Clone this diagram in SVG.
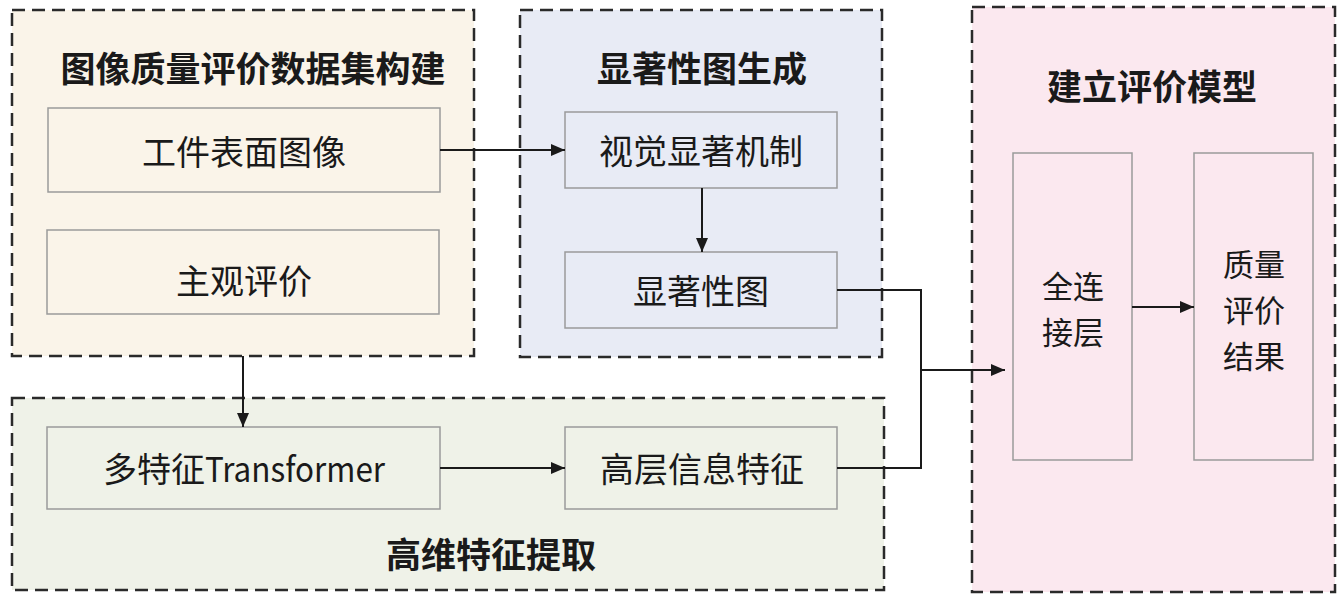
<svg xmlns="http://www.w3.org/2000/svg" width="1344" height="606" viewBox="0 0 1344 606">
<style>
.grp{stroke:#2a2a2a;stroke-width:2.5;stroke-dasharray:13 7}
.box{stroke:#9a9a9a;stroke-width:1.5}
.t{font-family:"Noto Sans CJK SC","Noto Sans",sans-serif;fill:#1a1a1a;text-anchor:middle;dominant-baseline:central}
.title{font-size:35px;font-weight:bold}
.lbl{font-size:34px}
.vl{font-size:31px}
.ln{fill:none;stroke:#1a1a1a;stroke-width:2}
</style>
<defs>
<marker id="ah" markerWidth="14" markerHeight="12" refX="14" refY="6" orient="auto" markerUnits="userSpaceOnUse">
<path d="M0,0 L14,6 L0,12 Z" fill="#1a1a1a"/>
</marker>
</defs>
<rect width="1344" height="606" fill="#ffffff"/>
<g id="group-dataset">
<rect class="grp" x="12" y="10" width="462" height="346" fill="#faf4e9"/>
<text class="t title" x="253" y="66">图像质量评价数据集构建</text>
</g>
<g id="group-saliency">
<rect class="grp" x="520" y="10" width="362" height="347" fill="#e8ebf5"/>
<text class="t title" x="702" y="66">显著性图生成</text>
</g>
<g id="group-feature">
<rect class="grp" x="12" y="398" width="872" height="192" fill="#eff2e8"/>
<text class="t title" x="491" y="552">高维特征提取</text>
</g>
<g id="group-model">
<rect class="grp" x="972" y="7" width="363" height="585" fill="#fbe8ef"/>
<text class="t title" x="1152" y="84">建立评价模型</text>
</g>
<g id="node-workpiece">
<rect class="box" x="48" y="108" width="392" height="84" fill="#faf4e9"/>
<text class="t lbl" x="244" y="150">工件表面图像</text>
</g>
<g id="node-subjective">
<rect class="box" x="47" y="230" width="392" height="84" fill="#faf4e9"/>
<text class="t lbl" x="244" y="279">主观评价</text>
</g>
<g id="node-visual">
<rect class="box" x="565" y="112" width="272" height="76" fill="#e8ebf5"/>
<text class="t lbl" x="701" y="149">视觉显著机制</text>
</g>
<g id="node-salmap">
<rect class="box" x="565" y="252" width="272" height="76" fill="#e8ebf5"/>
<text class="t lbl" x="701" y="289">显著性图</text>
</g>
<g id="node-transformer">
<rect class="box" x="47" y="427" width="393" height="82" fill="#eff2e8"/>
<text class="t lbl" x="244" y="467">多特征<tspan textLength="180" lengthAdjust="spacingAndGlyphs">Transformer</tspan></text>
</g>
<g id="node-highlevel">
<rect class="box" x="565" y="427" width="272" height="82" fill="#eff2e8"/>
<text class="t lbl" x="702" y="467">高层信息特征</text>
</g>
<g id="node-fc">
<rect class="box" x="1013" y="153" width="119" height="307" fill="#fbe8ef"/>
<text class="t vl" x="1073" y="284">全连</text>
<text class="t vl" x="1073" y="330">接层</text>
</g>
<g id="node-result">
<rect class="box" x="1194" y="153" width="119" height="307" fill="#fbe8ef"/>
<text class="t vl" x="1254" y="262">质量</text>
<text class="t vl" x="1254" y="308">评价</text>
<text class="t vl" x="1254" y="354">结果</text>
</g>
<g id="connectors">
<path class="ln" d="M440,150 H565" marker-end="url(#ah)"/>
<path class="ln" d="M702,188 V252" marker-end="url(#ah)"/>
<path class="ln" d="M243,356 V427" marker-end="url(#ah)"/>
<path class="ln" d="M440,468 H565" marker-end="url(#ah)"/>
<path class="ln" d="M837,290 H921 V468 H837"/>
<path class="ln" d="M921,370 H1005" marker-end="url(#ah)"/>
<path class="ln" d="M1132,307 H1194" marker-end="url(#ah)"/>
</g>
</svg>
